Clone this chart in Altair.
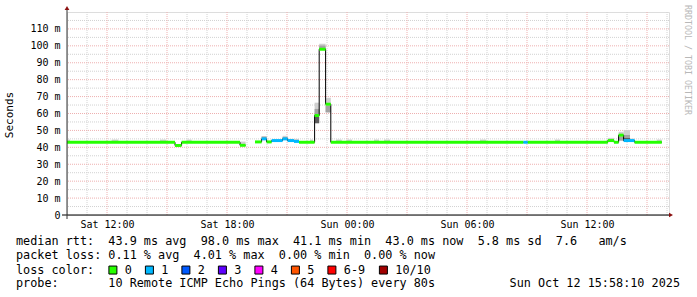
import altair as alt
import pandas as pd

MONO = "DejaVu Sans Mono"

# ---- median RTT segments (hours since Sat 00:00, ms) ----
SEG_START = [10.0, 15.4, 15.73, 18.65, 19.4, 19.73, 19.98, 20.23, 20.78, 21.03, 21.35, 21.6,
             22.38, 22.61, 22.93, 23.19, 32.82, 33.04, 37.04, 37.35, 37.58, 37.83, 38.38]
SEG_END = [15.4, 15.73, 18.65, 18.93, 19.73, 19.98, 20.23, 20.78, 21.03, 21.35, 21.6, 22.38,
           22.61, 22.93, 23.19, 32.82, 33.04, 37.04, 37.35, 37.58, 37.83, 38.38, 39.74]
SEG_MEDIAN = [43.0, 41.1, 43.0, 41.2, 43.2, 45.0, 43.2, 44.0, 45.0, 44.0, 43.5, 43.0,
              58.8, 98.0, 65.5, 43.0, 43.0, 43.0, 44.0, 43.0, 47.2, 44.0, 43.0]
SEG_LOSS = ["0", "0", "0", "0", "0", "1", "0", "1", "1", "1", "1", "0",
            "0", "0", "0", "0", "1", "0", "0", "0", "0", "1", "0"]
SEG_RUN = [0, 0, 0, 0] + [1] * 19

# ---- smoke (spread of the individual pings) ----
SMOKE_START = [10.0, 12.23, 14.65, 15.98, 18.65, 19.73, 20.78, 21.03, 21.35, 22.15, 22.38, 22.61,
               22.93, 23.45, 23.98, 25.35, 25.85, 30.65, 34.4, 37.04, 37.58, 37.83, 38.15, 39.49,
               19.73, 20.78, 22.38, 22.61, 22.93, 37.58, 37.83,
               22.38, 37.83]
SMOKE_END = [10.15, 12.57, 14.95, 16.23, 18.93, 19.98, 21.03, 21.35, 21.6, 22.3, 22.61, 22.93,
             23.19, 23.74, 24.25, 25.6, 26.15, 30.95, 34.65, 37.35, 37.83, 38.15, 38.38, 39.74,
             19.98, 21.03, 22.61, 22.93, 23.19, 37.83, 38.15,
             22.61, 38.15]
SMOKE_LOW = [43.0, 43.0, 43.0, 43.0, 42.0, 44.5, 45.0, 44.0, 43.5, 43.0, 53.8, 98.0,
             60.3, 43.0, 43.0, 43.0, 43.0, 43.0, 43.0, 44.0, 44.0, 44.0, 44.0, 43.0,
             45.5, 45.0, 58.5, 98.0, 60.9, 44.0, 44.0,
             54.4, 44.0]
SMOKE_HIGH = [44.6, 44.6, 44.6, 44.6, 43.4, 46.4, 46.8, 45.0, 45.0, 44.6, 66.4, 101.2,
              69.3, 44.6, 44.6, 44.6, 44.6, 44.6, 44.6, 45.6, 49.2, 50.2, 45.2, 44.6,
              46.4, 46.0, 62.7, 100.2, 64.6, 46.3, 47.3,
              58.0, 45.5]
SMOKE_SHADE = ["light"] * 24 + ["mid"] * 7 + ["dark"] * 2

LOSS_LABELS = ["0", "1", "2", "3", "4", "5", "6-9", "10/10"]
LOSS_COLORS = ["#26ff00", "#00b8ff", "#0059ff", "#5e00ff", "#ff00fe", "#ff5500", "#ff0000", "#a10000"]

X_TICKS = [12, 18, 24, 30, 36]
X_TICK_LABELS = ["Sat 12:00", "Sat 18:00", "Sun 00:00", "Sun 06:00", "Sun 12:00"]
Y_TICKS = [0, 10, 20, 30, 40, 50, 60, 70, 80, 90, 100, 110]

HOURS_MAJOR = [h for h in range(11, 41) if h % 3 == 0]
HOURS_MINOR = [h for h in range(11, 41) if h % 3 != 0]
MS_MAJOR = list(range(10, 120, 10))
MS_MINOR = list(range(5, 120, 10))

TEXT_LINES = [
    "median rtt:  43.9 ms avg  98.0 ms max  41.1 ms min  43.0 ms now  5.8 ms sd  7.6   am/s",
    "packet loss: 0.11 % avg  4.01 % max  0.00 % min  0.00 % now",
    "probe:       10 Remote ICMP Echo Pings (64 Bytes) every 80s",
]
DATE_TEXT = "Sun Oct 12 15:58:10 2025"
SIDE_TEXT = "RRDTOOL / TOBI OETIKER"


def keep_spaces(s):
    return s.replace(" ", "\u00a0")


# ---- tables ----
seg = pd.DataFrame({"start": SEG_START, "end": SEG_END, "median": SEG_MEDIAN,
                    "loss": SEG_LOSS, "run": SEG_RUN})
pts = []
for r in sorted(set(SEG_RUN)):
    part = seg[seg["run"] == r]
    for _, row in part.iterrows():
        pts.append({"t": row["start"], "median": row["median"], "run": r})
    last = part.iloc[-1]
    pts.append({"t": last["end"], "median": last["median"], "run": r})
line_df = pd.DataFrame(pts)

smoke = pd.DataFrame({"start": SMOKE_START, "end": SMOKE_END, "low": SMOKE_LOW,
                      "high": SMOKE_HIGH, "shade": SMOKE_SHADE})

XS = alt.Scale(domain=[10, 40.1], nice=False, zero=False)
YS = alt.Scale(domain=[0, 120], nice=False, zero=True)
label_expr = "[" + ",".join("'%s'" % s for s in X_TICK_LABELS) + "][indexof([" + \
    ",".join(str(v) for v in X_TICKS) + "], datum.value)]"
XAX = alt.Axis(values=X_TICKS, labelExpr=label_expr, title=None, grid=False, ticks=False,
               domain=False, labelFont=MONO, labelFontSize=10, labelColor="black",
               labelPadding=4)
YAX = alt.Axis(values=Y_TICKS, labelExpr="datum.value == 0 ? '0' : datum.value + ' m'",
               title=None, grid=False, ticks=False, domain=False, labelFont=MONO,
               labelFontSize=10, labelColor="black", labelPadding=7)


def X(f):
    return alt.X(f, type="quantitative", scale=XS, axis=XAX)


def Y(f):
    return alt.Y(f, type="quantitative", scale=YS, axis=YAX)


GRAY = "#d2d2d2"
RED = "#eeb0b0"
DASH = [1, 1]

g1 = alt.Chart(pd.DataFrame({"h": HOURS_MINOR})).mark_rule(color=GRAY, strokeDash=DASH, strokeWidth=1).encode(x=X("h"))
g2 = alt.Chart(pd.DataFrame({"v": MS_MINOR})).mark_rule(color=GRAY, strokeDash=DASH, strokeWidth=1).encode(y=Y("v"))
g3 = alt.Chart(pd.DataFrame({"h": HOURS_MAJOR})).mark_rule(color=RED, strokeDash=DASH, strokeWidth=1).encode(x=X("h"))
g4 = alt.Chart(pd.DataFrame({"v": MS_MAJOR})).mark_rule(color=RED, strokeDash=DASH, strokeWidth=1).encode(y=Y("v"))

smoke_layer = alt.Chart(smoke).mark_rect().encode(
    x=X("start"), x2="end", y=Y("low"), y2="high",
    fill=alt.Fill("shade:N", scale=alt.Scale(domain=["light", "mid", "dark"],
                                              range=["#cfcfcf", "#a3a3a3", "#5e5e5e"]),
                  legend=None),
)

black_line = alt.Chart(line_df).mark_line(interpolate="step-after", color="black", strokeWidth=1).encode(
    x=X("t"), y=Y("median"), detail="run:N")

legend = alt.Legend(title="loss color:", orient="none", legendX=-51, legendY=252,
                    direction="horizontal", columns=8, titleOrient="left",
                    titleFont=MONO, titleFontSize=11.8, titleFontWeight="normal",
                    titleColor="black", titlePadding=12, labelFont=MONO, labelFontSize=11.8,
                    labelColor="black", symbolType="square", symbolSize=64,
                    symbolStrokeColor="black", symbolStrokeWidth=1, symbolOpacity=1,
                    labelOffset=6, columnPadding=10.5, padding=0, offset=0)

median_layer = alt.Chart(seg).transform_calculate(
    lo="datum.median - 0.88", hi="datum.median + 0.88"
).mark_rect(strokeWidth=0).encode(
    x=X("start"), x2="end", y=Y("lo:Q"), y2="hi:Q",
    color=alt.Color("loss:N", scale=alt.Scale(domain=LOSS_LABELS, range=LOSS_COLORS), legend=legend),
)

one = pd.DataFrame({"k": [0]})
x_axis_line = alt.Chart(one).mark_rule(color="black", strokeWidth=1).encode(
    x=alt.value(-5), x2=alt.value(603), y=alt.value(203))
y_axis_line = alt.Chart(one).mark_rule(color="#333333", strokeWidth=1).encode(
    x=alt.value(0), y=alt.value(-3), y2=alt.value(207))
arrow_up = alt.Chart(one).mark_point(shape="triangle-up", filled=True, size=22, color="#8b1010", opacity=1).encode(
    x=alt.value(0), y=alt.value(-4))
arrow_right = alt.Chart(one).mark_point(shape="triangle-right", filled=True, size=22, color="#8b1010", opacity=1).encode(
    x=alt.value(604), y=alt.value(203))

y_title = alt.Chart(one).mark_text(angle=270, font=MONO, fontSize=11, color="black").encode(
    x=alt.value(-57), y=alt.value(103), text=alt.value("Seconds"))
side = alt.Chart(one).mark_text(angle=90, font=MONO, fontSize=8.3, color="#b8b8b8").encode(
    x=alt.value(620), y=alt.value(48), text=alt.value(SIDE_TEXT))

text_y = [233, 247, 274.7]
texts = []
for ln, yy in zip(TEXT_LINES, text_y):
    texts.append(alt.Chart(pd.DataFrame({"t": [keep_spaces(ln)]})).mark_text(
        align="left", baseline="alphabetic", font=MONO, fontSize=11.8, color="black").encode(
        x=alt.value(-51), y=alt.value(yy), text="t:N"))
date_layer = alt.Chart(pd.DataFrame({"t": [keep_spaces(DATE_TEXT)]})).mark_text(
    align="right", baseline="alphabetic", font=MONO, fontSize=11.8, color="black").encode(
    x=alt.value(613), y=alt.value(274.7), text="t:N")

chart = alt.layer(
    g1, g2, g3, g4, smoke_layer, black_line, median_layer,
    x_axis_line, y_axis_line, arrow_up, arrow_right, y_title, side, *texts, date_layer
).properties(
    width=602, height=203,
    autosize=alt.AutoSizeParams(type="none"),
    padding={"left": 67, "top": 12, "right": 28, "bottom": 82},
).configure_view(stroke=None).configure(background="white")

chart.save("out.html", embed_options={"renderer": "svg", "actions": False})
